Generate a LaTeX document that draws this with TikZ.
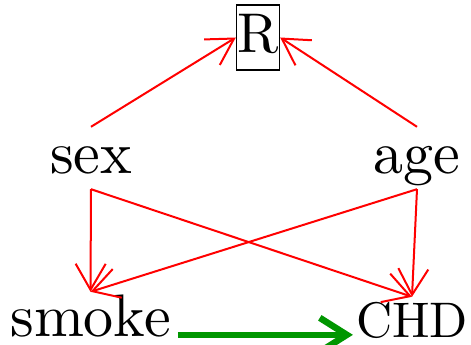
\documentclass[tikz,border=0pt]{standalone}
\usepackage{fontspec}
\newfontfamily\labelfont{lmroman10-regular.otf}
\usetikzlibrary{arrows.meta}
\definecolor{causal}{RGB}{0,150,0}
\begin{document}
\begin{tikzpicture}[x=1pt,y=1pt,
  lbl/.style={inner sep=0pt, font=\labelfont\fontsize{60}{72}\selectfont},
  midlbl/.style={lbl, text height=47pt, text depth=15pt},
  rededge/.style={draw=red, line width=2pt, -{Straight Barb[length=26pt,width=30pt]}},
  greenedge/.style={draw=causal, line width=6.5pt, -{Straight Barb[length=27pt,width=34pt]}}]
\useasboundingbox (0,0) rectangle (471,345);

% variables
\node[inner sep=0pt, font=\labelfont\fontsize{56}{67}\selectfont, draw, line width=1.2pt,
      inner xsep=1pt, text height=48pt, text depth=17pt, anchor=base] (R) at (258,292) {R};
\node[midlbl, anchor=base] (sex) at (91,171) {sex};
\node[midlbl, anchor=base] (age) at (417,171) {age};
\node[lbl, text height=45pt, anchor=base] (smoke) at (90.5,8) {smoke};
\node[inner sep=0pt, font=\labelfont\fontsize{50}{60}\selectfont, text height=41pt, anchor=base]
      (CHD) at (412,7) {CHD};

% edges
\draw[rededge] (sex.north) -- (R.west);
\draw[rededge] (age.north) -- (R.east);
\draw[rededge] (sex.south) -- (smoke.north);
\draw[rededge] (sex.south) -- (CHD.north);
\draw[rededge] (age.south) -- (smoke.north);
\draw[rededge] (age.south) -- (CHD.north);
\draw[greenedge, shorten <=7pt, shorten >=3pt] (smoke.mid east) -- (smoke.mid east -| CHD.west);
\end{tikzpicture}
\end{document}
